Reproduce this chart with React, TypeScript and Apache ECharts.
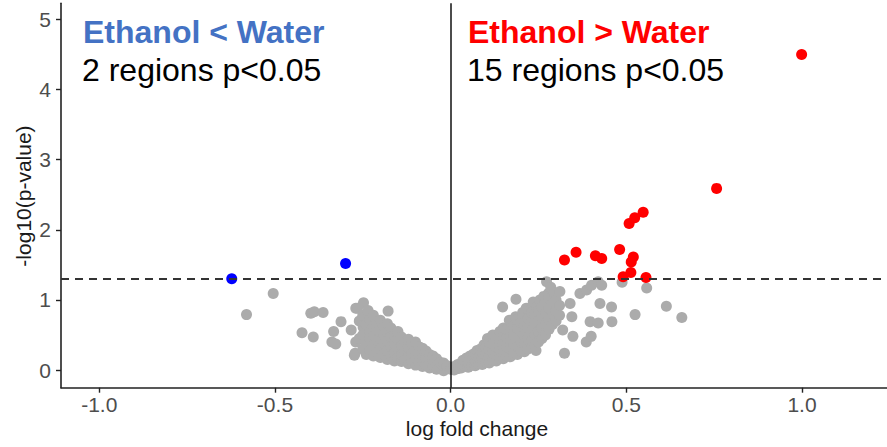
import React, { useEffect, useRef } from "react";
import * as echarts from "echarts";

const xTicks = [-1, -0.5, 0, 0.5, 1];
const yTicks = [0, 1, 2, 3, 4, 5];
const pThreshold = 1.3;

const bluePoints = [
  [-0.623, 1.30],
  [-0.299, 1.52],
];

const redPoints = [
  [0.999, 4.50], [0.757, 2.59], [0.548, 2.25], [0.524, 2.17], [0.508, 2.09],
  [0.481, 1.72], [0.357, 1.68], [0.324, 1.57], [0.412, 1.63], [0.430, 1.59],
  [0.520, 1.61], [0.514, 1.54], [0.513, 1.39], [0.491, 1.33], [0.556, 1.32],
];

const grayLeft = [
  [-0.581, 0.79], [-0.505, 1.09], [-0.423, 0.53], [-0.398, 0.81], [-0.388, 0.83],
  [-0.363, 0.82], [-0.391, 0.47], [-0.338, 0.40], [-0.327, 0.37], [-0.333, 0.55],
  [-0.312, 0.69], [-0.283, 0.57], [-0.274, 0.21], [-0.272, 0.24], [-0.270, 0.88],
  [-0.265, 0.88], [-0.248, 0.96], [-0.246, 0.59], [-0.270, 0.40], [-0.249, 0.61],
  [-0.178, 0.84], [-0.156, 0.52],
  [-0.26, 0.45], [-0.26, 0.70],
  [-0.25, 0.30], [-0.25, 0.50], [-0.25, 0.78],
  [-0.24, 0.22], [-0.24, 0.38], [-0.24, 0.65], [-0.235, 0.85],
  [-0.23, 0.28], [-0.23, 0.45], [-0.23, 0.55], [-0.23, 0.72],
  [-0.22, 0.20], [-0.22, 0.35], [-0.22, 0.50], [-0.22, 0.62], [-0.22, 0.78],
  [-0.21, 0.25], [-0.21, 0.42], [-0.21, 0.58], [-0.21, 0.68],
  [-0.20, 0.18], [-0.20, 0.30], [-0.20, 0.45], [-0.20, 0.55], [-0.20, 0.71],
  [-0.19, 0.22], [-0.19, 0.38], [-0.19, 0.50], [-0.19, 0.62],
  [-0.18, 0.15], [-0.18, 0.28], [-0.18, 0.42], [-0.18, 0.55], [-0.18, 0.66],
  [-0.17, 0.20], [-0.17, 0.33], [-0.17, 0.48], [-0.17, 0.60],
  [-0.16, 0.13], [-0.16, 0.25], [-0.16, 0.38], [-0.16, 0.50],
  [-0.15, 0.18], [-0.15, 0.30], [-0.15, 0.44], [-0.15, 0.55],
  [-0.14, 0.12], [-0.14, 0.22], [-0.14, 0.35], [-0.14, 0.47],
  [-0.13, 0.15], [-0.13, 0.27], [-0.13, 0.40],
  [-0.12, 0.09], [-0.12, 0.20], [-0.12, 0.32], [-0.12, 0.44],
  [-0.11, 0.12], [-0.11, 0.24], [-0.11, 0.38],
  [-0.10, 0.07], [-0.10, 0.17], [-0.10, 0.28], [-0.10, 0.40],
  [-0.09, 0.10], [-0.09, 0.20], [-0.09, 0.33],
  [-0.08, 0.05], [-0.08, 0.14], [-0.08, 0.25], [-0.08, 0.31],
  [-0.07, 0.08], [-0.07, 0.18], [-0.07, 0.27],
  [-0.06, 0.03], [-0.06, 0.12], [-0.06, 0.22],
  [-0.05, 0.06], [-0.05, 0.15], [-0.05, 0.20],
  [-0.04, 0.01], [-0.04, 0.09], [-0.04, 0.16],
  [-0.03, 0.04], [-0.03, 0.11],
  [-0.02, -0.01], [-0.02, 0.06], [-0.02, 0.10],
  [-0.01, 0.02], [-0.01, 0.06],
  [0.0, 0.01],
];

const grayRight = [
  [0.01, 0.00], [0.01, 0.05], [0.02, 0.02], [0.02, 0.08], [0.03, 0.03], [0.03, 0.10], [0.035, 0.14],
  [0.04, 0.05], [0.04, 0.12], [0.045, 0.17], [0.05, 0.04], [0.05, 0.10], [0.055, 0.20],
  [0.06, 0.07], [0.06, 0.15], [0.065, 0.23], [0.07, 0.06], [0.07, 0.13], [0.07, 0.22], [0.075, 0.28],
  [0.08, 0.09], [0.08, 0.18], [0.085, 0.30], [0.09, 0.08], [0.09, 0.16], [0.09, 0.25], [0.095, 0.36],
  [0.10, 0.12], [0.10, 0.22], [0.10, 0.33], [0.105, 0.45], [0.11, 0.10], [0.11, 0.19], [0.11, 0.29], [0.11, 0.40],
  [0.12, 0.14], [0.12, 0.25], [0.12, 0.37], [0.12, 0.50], [0.13, 0.13], [0.13, 0.22], [0.13, 0.33], [0.13, 0.45],
  [0.14, 0.17], [0.14, 0.29], [0.14, 0.41], [0.14, 0.55], [0.15, 0.16], [0.15, 0.26], [0.15, 0.38], [0.15, 0.50], [0.15, 0.60],
  [0.16, 0.20], [0.16, 0.33], [0.16, 0.46], [0.16, 0.58], [0.17, 0.19], [0.17, 0.30], [0.17, 0.42], [0.17, 0.55], [0.167, 0.71],
  [0.18, 0.23], [0.18, 0.37], [0.18, 0.50], [0.18, 0.63], [0.185, 0.76], [0.19, 0.22], [0.19, 0.34], [0.19, 0.46], [0.19, 0.60], [0.19, 0.72],
  [0.20, 0.27], [0.20, 0.40], [0.20, 0.55], [0.20, 0.68], [0.205, 0.82], [0.21, 0.26], [0.21, 0.38], [0.21, 0.50], [0.21, 0.64], [0.21, 0.78], [0.215, 0.88],
  [0.22, 0.30], [0.22, 0.45], [0.22, 0.60], [0.22, 0.73], [0.225, 0.85], [0.23, 0.32], [0.23, 0.42], [0.23, 0.56], [0.23, 0.70], [0.23, 0.82], [0.235, 0.97],
  [0.24, 0.36], [0.24, 0.50], [0.24, 0.65], [0.24, 0.78], [0.245, 0.90], [0.243, 0.28], [0.25, 0.40], [0.25, 0.55], [0.25, 0.70], [0.25, 0.85], [0.254, 1.00],
  [0.26, 0.45], [0.26, 0.60], [0.26, 0.75], [0.26, 0.90], [0.265, 1.05], [0.27, 0.50], [0.27, 0.65], [0.27, 0.80], [0.267, 0.95], [0.278, 1.09], [0.273, 1.26],
  [0.28, 0.58], [0.28, 0.72], [0.28, 0.88], [0.28, 1.02], [0.285, 1.18], [0.29, 0.65], [0.29, 0.80], [0.29, 0.95], [0.295, 1.10],
  [0.30, 0.70], [0.30, 0.85], [0.30, 1.00], [0.31, 0.78], [0.31, 0.92], [0.311, 1.12],
  [0.148, 0.90], [0.186, 1.01], [0.319, 0.57], [0.324, 0.24], [0.348, 0.48], [0.340, 0.95],
  [0.345, 0.76], [0.368, 1.09], [0.387, 1.14], [0.401, 1.21], [0.420, 1.26], [0.430, 1.21],
  [0.386, 0.40], [0.400, 0.48], [0.397, 0.69], [0.420, 0.67], [0.425, 0.95], [0.458, 0.90],
  [0.459, 0.69], [0.525, 0.79], [0.614, 0.91], [0.658, 0.75], [0.558, 1.17], [0.488, 1.25],
];

const FONT = "'Liberation Sans', Arial, Helvetica, sans-serif";

export default function App() {
  const ref = useRef<HTMLDivElement>(null);
  useEffect(() => {
    const chart = echarts.init(ref.current as HTMLDivElement, null, { renderer: "svg" });
    const txt = (text: string, x: number, y: number, fill: string, size: number, bold: boolean) => ({
      type: "text",
      x,
      y,
      style: {
        text,
        fill,
        fontSize: size,
        fontWeight: bold ? "bold" : "normal",
        fontFamily: FONT,
        align: "left",
        textAlign: "left",
        verticalAlign: "middle",
        textVerticalAlign: "middle",
      },
    });
    chart.setOption({
      animation: false,
      backgroundColor: "#ffffff",
      grid: { left: 61, right: 0, top: 3.3, bottom: 59.3, containLabel: false },
      xAxis: {
        type: "value",
        min: -1.109,
        max: 1.242,
        axisLine: { show: true, onZero: false, lineStyle: { color: "#222", width: 1.6 } },
        axisTick: { show: true, length: 5, customValues: xTicks, lineStyle: { color: "#222", width: 1.4 } },
        axisLabel: {
          customValues: xTicks,
          formatter: (v: number) => v.toFixed(1),
          color: "#4d4d4d",
          fontSize: 21,
          fontFamily: FONT,
          margin: 6,
        },
        splitLine: { show: false },
      },
      yAxis: {
        type: "value",
        min: -0.252,
        max: 5.229,
        axisLine: { show: true, onZero: false, lineStyle: { color: "#222", width: 1.6 } },
        axisTick: { show: true, length: 5, customValues: yTicks, lineStyle: { color: "#222", width: 1.4 } },
        axisLabel: {
          customValues: yTicks,
          formatter: (v: number) => String(Math.round(v)),
          color: "#4d4d4d",
          fontSize: 21,
          fontFamily: FONT,
          margin: 10,
        },
        splitLine: { show: false },
      },
      graphic: [
        txt("Ethanol < Water", 83, 32, "#4472C4", 32, true),
        txt("2 regions p<0.05", 82, 70, "#000000", 32, false),
        txt("Ethanol > Water", 468, 32, "#FF0000", 32, true),
        txt("15 regions p<0.05", 467, 70, "#000000", 32, false),
        {
          type: "text",
          x: 477,
          y: 428,
          style: {
            text: "log fold change",
            fill: "#1a1a1a",
            fontSize: 21,
            fontFamily: FONT,
            align: "center",
            textAlign: "center",
            verticalAlign: "middle",
            textVerticalAlign: "middle",
          },
        },
        {
          type: "text",
          x: 23,
          y: 196,
          rotation: Math.PI / 2,
          style: {
            text: "-log10(p-value)",
            fill: "#1a1a1a",
            fontSize: 21,
            fontFamily: FONT,
            align: "center",
            textAlign: "center",
            verticalAlign: "middle",
            textVerticalAlign: "middle",
          },
        },
      ],
      series: [
        {
          type: "scatter",
          data: [],
          z: 1,
          silent: true,
          markLine: {
            silent: true,
            symbol: ["none", "none"],
            label: { show: false },
            lineStyle: { color: "#333", width: 1.8, type: [8, 6] },
            data: [{ yAxis: pThreshold }],
          },
        },
        {
          type: "scatter",
          data: [...grayLeft, ...grayRight],
          symbol: "circle",
          symbolSize: 11,
          itemStyle: { color: "#ABABAB", opacity: 1 },
          z: 2,
          silent: true,
        },
        {
          type: "scatter",
          data: redPoints,
          symbol: "circle",
          symbolSize: 11,
          itemStyle: { color: "#FF0000", opacity: 1 },
          z: 3,
          silent: true,
        },
        {
          type: "scatter",
          data: bluePoints,
          symbol: "circle",
          symbolSize: 11,
          itemStyle: { color: "#0000FF", opacity: 1 },
          z: 3,
          silent: true,
        },
        {
          type: "scatter",
          data: [],
          z: 4,
          silent: true,
          markLine: {
            silent: true,
            symbol: ["none", "none"],
            label: { show: false },
            lineStyle: { color: "#111", width: 1.5, type: "solid" },
            data: [{ xAxis: 0 }],
          },
        },
      ],
    });
    return () => chart.dispose();
  }, []);
  return (
    <div
      ref={ref}
      style={{ position: "fixed", left: 0, top: 0, width: 887, height: 447, background: "#fff" }}
    />
  );
}
